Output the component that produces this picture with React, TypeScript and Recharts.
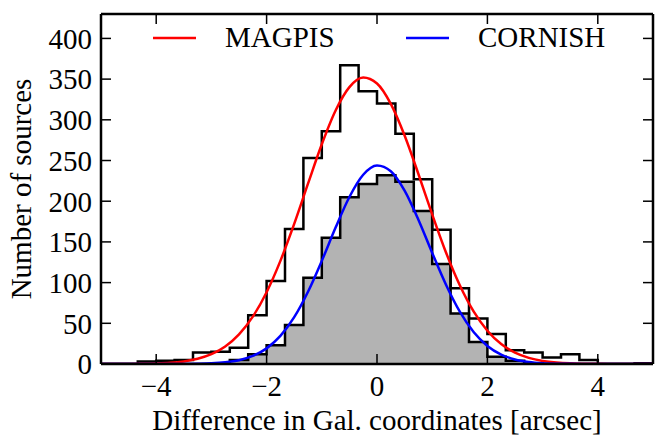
import React from 'react';
import { ComposedChart, Area, Line, XAxis, YAxis, Legend } from 'recharts';

// Histogram bins: 30 bins of width 1/3 arcsec spanning [-5, 5]
const BIN_START = -5;
const BIN_WIDTH = 1 / 3;

const magpisCounts = [
  0, 0, 3, 4, 5, 14, 15, 20, 60, 102,
  166, 253, 286, 367, 335, 320, 283, 227, 165, 93,
  56, 37, 17, 14, 8, 12, 5, 0, 0, 1,
];

const cornishCounts = [
  0, 0, 0, 0, 0, 0, 1, 5, 12, 23,
  48, 106, 155, 205, 221, 232, 224, 188, 123, 62,
  27, 9, 4, 1, 0, 0, 0, 0, 0, 0,
];

// Gaussian fit curves sampled every 0.25 arcsec
const curveX = [
  -5, -4.75, -4.5, -4.25, -4, -3.75, -3.5, -3.25, -3, -2.75,
  -2.5, -2.25, -2, -1.75, -1.5, -1.25, -1, -0.75, -0.5, -0.25,
  0, 0.25, 0.5, 0.75, 1, 1.25, 1.5, 1.75, 2, 2.25,
  2.5, 2.75, 3, 3.25, 3.5, 3.75, 4, 4.25, 4.5, 4.75, 5,
];

const magpisFit = [
  0, 0.1, 0.1, 0.3, 0.7, 1.5, 3.2, 6.4, 12.0, 21.5,
  36.4, 58.2, 88.2, 126.7, 172.1, 221.5, 269.9, 311.4, 340.1, 351.9,
  344.6, 319.6, 280.7, 233.4, 183.8, 137.0, 96.7, 64.6, 40.9, 24.5,
  13.9, 7.5, 3.8, 1.8, 0.8, 0.4, 0.2, 0.1, 0, 0, 0,
];

const cornishFit = [
  0, 0, 0, 0, 0, 0, 0.1, 0.3, 0.8, 2.1,
  4.7, 9.9, 19.2, 34.5, 57.5, 88.8, 126.7, 167.6, 205.2, 232.5,
  243.9, 236.8, 212.9, 177.2, 136.5, 97.4, 64.3, 39.3, 22.2, 11.6,
  5.6, 2.5, 1.0, 0.4, 0.2, 0.1, 0, 0, 0, 0, 0,
];

const seriesNames = ['MAGPIS', 'CORNISH'];
const xTicks = [-4, -2, 0, 2, 4];
const yTicks = [0, 50, 100, 150, 200, 250, 300, 350, 400];

type Row = { x: number; magpis?: number; cornish?: number; magpisFit?: number; cornishFit?: number };

function buildRows(): Row[] {
  const rows = new Map<string, Row>();
  const get = (x: number) => {
    const key = x.toFixed(4);
    let r = rows.get(key);
    if (!r) {
      r = { x };
      rows.set(key, r);
    }
    return r;
  };
  for (let k = 0; k <= magpisCounts.length; k++) {
    const x = BIN_START + k * BIN_WIDTH;
    const idx = Math.min(k, magpisCounts.length - 1);
    const r = get(x);
    r.magpis = magpisCounts[idx];
    r.cornish = cornishCounts[idx];
  }
  curveX.forEach((x, i) => {
    const r = get(x);
    r.magpisFit = magpisFit[i];
    r.cornishFit = cornishFit[i];
  });
  return Array.from(rows.values()).sort((a, b) => a.x - b.x);
}

const rows = buildRows();

const FONT = "'Liberation Serif', 'DejaVu Serif', serif";
const FS = 29;

const fmt = (v: number) => (v < 0 ? `\u2212${Math.abs(v)}` : `${v}`);

const renderLegend = (props: any) => {
  const items = (props.payload || [])
    .filter((p: any) => p.type !== 'none')
    .sort((a: any, b: any) => seriesNames.indexOf(a.value) - seriesNames.indexOf(b.value));
  return (
    <svg width={500} height={40} style={{ overflow: 'visible', display: 'block' }}>
      {items.map((p: any, i: number) => {
        const x0 = i * 253;
        return (
          <g key={p.value}>
            <line x1={x0} x2={x0 + 43} y1={14} y2={14} stroke={p.color} strokeWidth={2.5} />
            <text x={x0 + 72} y={23} fontSize={FS} fontFamily={FONT} fill="#000">
              {p.value}
            </text>
          </g>
        );
      })}
    </svg>
  );
};

const noTick = () => <g />;

export default function App() {
  const tickStyle = { fontSize: FS, fontFamily: FONT, fill: '#000' };
  const axisLine = { stroke: '#000', strokeWidth: 2.5 };
  const tickLine = { stroke: '#000', strokeWidth: 1.5 };
  return (
    <div style={{ position: 'absolute', left: 0, top: 0, width: 659, height: 439, background: '#fff' }}>
      <ComposedChart
        width={659}
        height={439}
        data={rows}
        margin={{ top: 13, right: 5, bottom: 0, left: 0 }}
        style={{ fontFamily: FONT }}
      >
        <XAxis
          dataKey="x"
          type="number"
          domain={[-5, 5]}
          ticks={xTicks}
          allowDataOverflow
          height={75}
          tickSize={-10}
          tickMargin={21}
          tickFormatter={fmt}
          tick={tickStyle}
          axisLine={axisLine}
          tickLine={tickLine}
          label={{
            content: () => (
              <text x={377} y={430} textAnchor="middle" fontSize={FS} fontFamily={FONT} fill="#000">
                Difference in Gal. coordinates [arcsec]
              </text>
            ),
          }}
        />
        <XAxis
          xAxisId="top"
          dataKey="x"
          type="number"
          orientation="top"
          domain={[-5, 5]}
          ticks={xTicks}
          allowDataOverflow
          height={1}
          tickSize={-10}
          tick={noTick}
          axisLine={axisLine}
          tickLine={tickLine}
        />
        <YAxis
          type="number"
          domain={[0, 430]}
          ticks={yTicks}
          allowDataOverflow
          width={101}
          tickSize={-10}
          tickMargin={19}
          tick={tickStyle}
          axisLine={axisLine}
          tickLine={tickLine}
          label={{
            content: () => (
              <text
                x={31}
                y={189}
                transform="rotate(-90, 31, 189)"
                textAnchor="middle"
                fontSize={FS}
                fontFamily={FONT}
                fill="#000"
              >
                Number of sources
              </text>
            ),
          }}
        />
        <YAxis
          yAxisId="right"
          orientation="right"
          type="number"
          domain={[0, 430]}
          ticks={yTicks}
          allowDataOverflow
          width={1}
          tickSize={-10}
          tick={noTick}
          axisLine={axisLine}
          tickLine={tickLine}
        />
        <Area
          dataKey="cornish"
          type="stepAfter"
          connectNulls
          fill="#b3b3b3"
          fillOpacity={1}
          stroke="#000"
          strokeWidth={2.5}
          legendType="none"
          isAnimationActive={false}
          dot={false}
          activeDot={false}
        />
        <Area
          dataKey="magpis"
          type="stepAfter"
          connectNulls
          fill="none"
          stroke="#000"
          strokeWidth={2.5}
          legendType="none"
          isAnimationActive={false}
          dot={false}
          activeDot={false}
        />
        <Line
          dataKey="magpisFit"
          name="MAGPIS"
          type="monotone"
          connectNulls
          stroke="#ff0000"
          strokeWidth={2.5}
          dot={false}
          activeDot={false}
          isAnimationActive={false}
        />
        <Line
          dataKey="cornishFit"
          name="CORNISH"
          type="monotone"
          connectNulls
          stroke="#0000ff"
          strokeWidth={2.5}
          dot={false}
          activeDot={false}
          isAnimationActive={false}
        />
        <Legend
          layout="horizontal"
          verticalAlign="middle"
          align="center"
          content={renderLegend}
          wrapperStyle={{ position: 'absolute', top: 24, left: 153, width: 500, height: 40 }}
        />
      </ComposedChart>
    </div>
  );
}
